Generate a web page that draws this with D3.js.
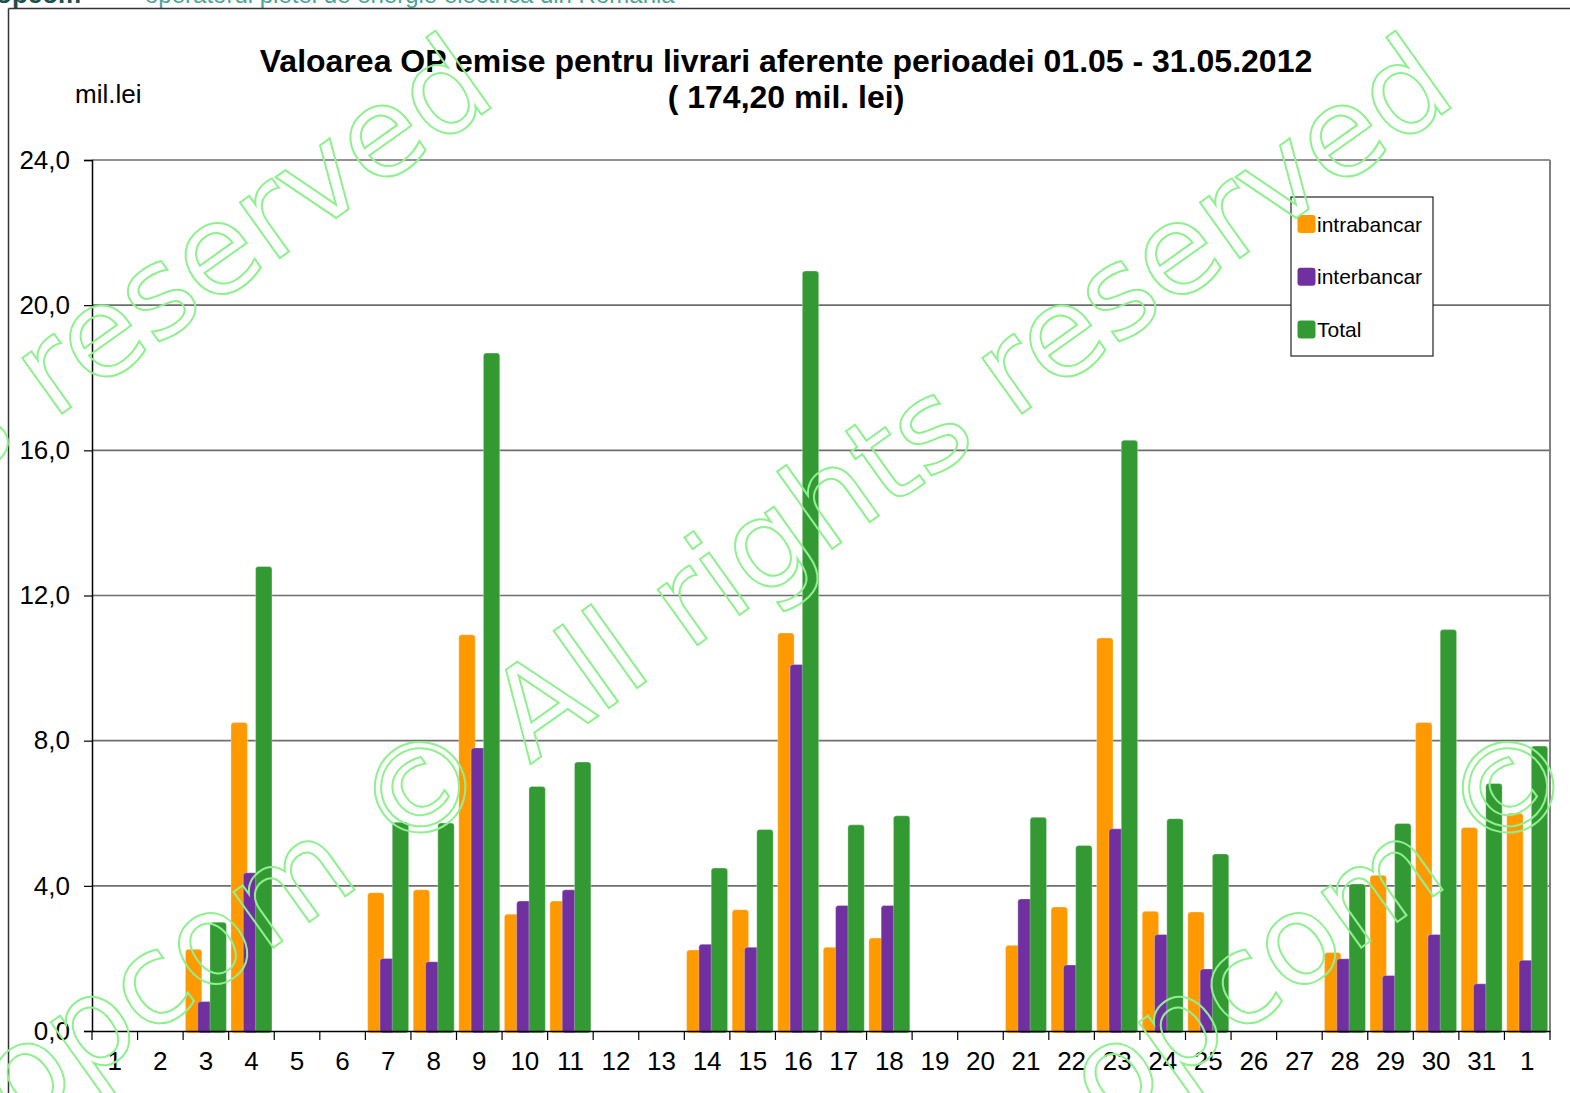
<!DOCTYPE html>
<html>
<head>
<meta charset="utf-8">
<script src="https://cdn.jsdelivr.net/npm/d3@7"></script>
<style>
  html, body { margin: 0; padding: 0; background: #fff; }
  svg { display: block; }
  text { font-family: "Liberation Sans", Arial, sans-serif; }
</style>
</head>
<body>
<svg id="chart" width="1570" height="1093"></svg>
<script>
// ---- data ----
const categories = ["1","2","3","4","5","6","7","8","9","10","11","12","13","14","15","16","17","18","19","20","21","22","23","24","25","26","27","28","29","30","31","1"];
const intrabancar = [0,0,2.25,8.50,0,0,3.81,3.89,10.92,3.22,3.58,0,0,2.23,3.34,10.97,2.31,2.56,0,0,2.36,3.42,10.83,3.30,3.28,0,0,2.16,4.29,8.50,5.61,6.00];
const interbancar = [0,0,0.81,4.36,0,0,2.00,1.91,7.80,3.58,3.89,0,0,2.39,2.31,10.10,3.46,3.46,0,0,3.64,1.82,5.57,2.66,1.71,0,0,1.99,1.53,2.66,1.30,1.95];
const total       = [0,0,3.00,12.80,0,0,5.75,5.73,18.68,6.74,7.41,0,0,4.49,5.55,20.94,5.68,5.93,0,0,5.89,5.11,16.28,5.85,4.88,0,0,4.05,5.72,11.06,6.82,7.85];
const seriesNames = ["intrabancar","interbancar","Total"];
const seriesColors = ["#FF9900","#7030A0","#339933"];
const yTicks = [0,4,8,12,16,20,24];
const titleLines = ["Valoarea OP emise pentru livrari aferente perioadei 01.05 - 31.05.2012","( 174,20 mil. lei)"];
const yUnit = "mil.lei";
const headerBrand = "opcom";
const headerText = "operatorul pietei de energie electrica din Romania";
const watermarkText = "opcom © All rights reserved";

const series = [intrabancar, interbancar, total];

// ---- layout ----
const svg = d3.select("#chart");
const plot = {left: 92, right: 1550, top: 160, bottom: 1031};

const x = d3.scaleBand().domain(d3.range(categories.length)).range([plot.left, plot.right]).padding(0);
const y = d3.scaleLinear().domain([0, 24]).range([plot.bottom, plot.top]);
const fmt = d => d3.format(".1f")(d).replace(".", ",");

// header (cut off at top)
svg.append("text").attr("x", -4).attr("y", 3).attr("font-size", 26).attr("font-weight", "bold")
  .attr("fill", "#1f4e4e").text(headerBrand);
svg.append("text").attr("x", 145).attr("y", 3).attr("font-size", 24)
  .attr("fill", "#4fa494").text(headerText);

// frame
svg.append("line").attr("x1", 8.5).attr("x2", 1570).attr("y1", 8.5).attr("y2", 8.5).attr("stroke", "#333").attr("stroke-width", 1.5);
svg.append("line").attr("x1", 8.5).attr("x2", 8.5).attr("y1", 8.5).attr("y2", 1093).attr("stroke", "#333").attr("stroke-width", 1.5);

// title
svg.append("text").attr("x", 786).attr("y", 72).attr("text-anchor", "middle")
  .attr("font-size", 32).attr("font-weight", "bold").attr("fill", "#000").text(titleLines[0]);
svg.append("text").attr("x", 786).attr("y", 108).attr("text-anchor", "middle")
  .attr("font-size", 32).attr("font-weight", "bold").attr("fill", "#000").text(titleLines[1]);

svg.append("text").attr("x", 75).attr("y", 103).attr("font-size", 26).attr("fill", "#000").text(yUnit);

// gridlines
svg.append("g").selectAll("line").data(yTicks.filter(d => d > 0)).join("line")
  .attr("x1", plot.left).attr("x2", plot.right)
  .attr("y1", d => y(d)).attr("y2", d => y(d))
  .attr("stroke", "#6e6e6e").attr("stroke-width", 1.6);
// right border
svg.append("line").attr("x1", plot.right).attr("x2", plot.right).attr("y1", plot.top).attr("y2", plot.bottom)
  .attr("stroke", "#808080").attr("stroke-width", 2);

// y axis
const yAxis = d3.axisLeft(y).tickValues(yTicks).tickFormat(fmt).tickSize(8).tickPadding(14);
const gy = svg.append("g").attr("transform", `translate(${plot.left},0)`).call(yAxis);
gy.select(".domain").attr("stroke", "#000").attr("stroke-width", 1.5);
gy.selectAll(".tick line").attr("stroke", "#000").attr("stroke-width", 1.2);
gy.selectAll(".tick text").attr("font-size", 26).attr("fill", "#000");

// bars
const bw = 16.4, step = 12.3, pad = (x.bandwidth() - (2 * step + bw)) / 2;
series.forEach((vals, si) => {
  svg.append("g").selectAll("rect").data(vals.map((v, i) => ({v, i})).filter(d => d.v > 0)).join("rect")
    .attr("x", d => x(d.i) + pad + si * step)
    .attr("width", bw)
    .attr("y", d => y(d.v))
    .attr("height", d => y(0) - y(d.v) + 2)
    .attr("rx", 3).attr("ry", 3)
    .attr("fill", seriesColors[si])
    .attr("stroke", "rgba(255,255,255,0.5)").attr("stroke-width", 0.6);
});

// x axis
const xAxis = d3.axisBottom(x).tickFormat(i => categories[i]).tickSize(0).tickPadding(21);
const gx = svg.append("g").attr("transform", `translate(0,${plot.bottom})`).call(xAxis);
gx.select(".domain").attr("stroke", "#000").attr("stroke-width", 1.5);
gx.selectAll(".tick text").attr("font-size", 26).attr("fill", "#000");
// category boundary ticks
svg.append("g").selectAll("line").data(d3.range(categories.length + 1)).join("line")
  .attr("x1", i => plot.left + i * x.step()).attr("x2", i => plot.left + i * x.step())
  .attr("y1", plot.bottom).attr("y2", plot.bottom + 9)
  .attr("stroke", "#000").attr("stroke-width", 1.2);

// legend
const lg = svg.append("g");
lg.append("rect").attr("x", 1291).attr("y", 197).attr("width", 142).attr("height", 159)
  .attr("fill", "#fff").attr("stroke", "#222").attr("stroke-width", 1.2);
seriesNames.forEach((n, i) => {
  const cy = 224 + i * 52.7;
  lg.append("rect").attr("x", 1297.5).attr("y", cy - 9).attr("width", 18).attr("height", 18)
    .attr("rx", 3).attr("fill", seriesColors[i]);
  lg.append("text").attr("x", 1317).attr("y", cy + 7.5).attr("font-size", 21).attr("fill", "#000").text(n);
});

// watermark
const wmOffsets = [-960, 0, 1088];
wmOffsets.forEach(dx => {
  svg.append("text")
    .attr("transform", `translate(${19 + dx},1129) rotate(-35.5)`)
    .style("font-family", "'DejaVu Sans', Verdana, sans-serif")
    .attr("font-size", 125)
    .attr("fill", "none")
    .attr("stroke", "#8ff08f")
    .attr("stroke-width", 2)
    .text(watermarkText);
});
</script>
</body>
</html>
